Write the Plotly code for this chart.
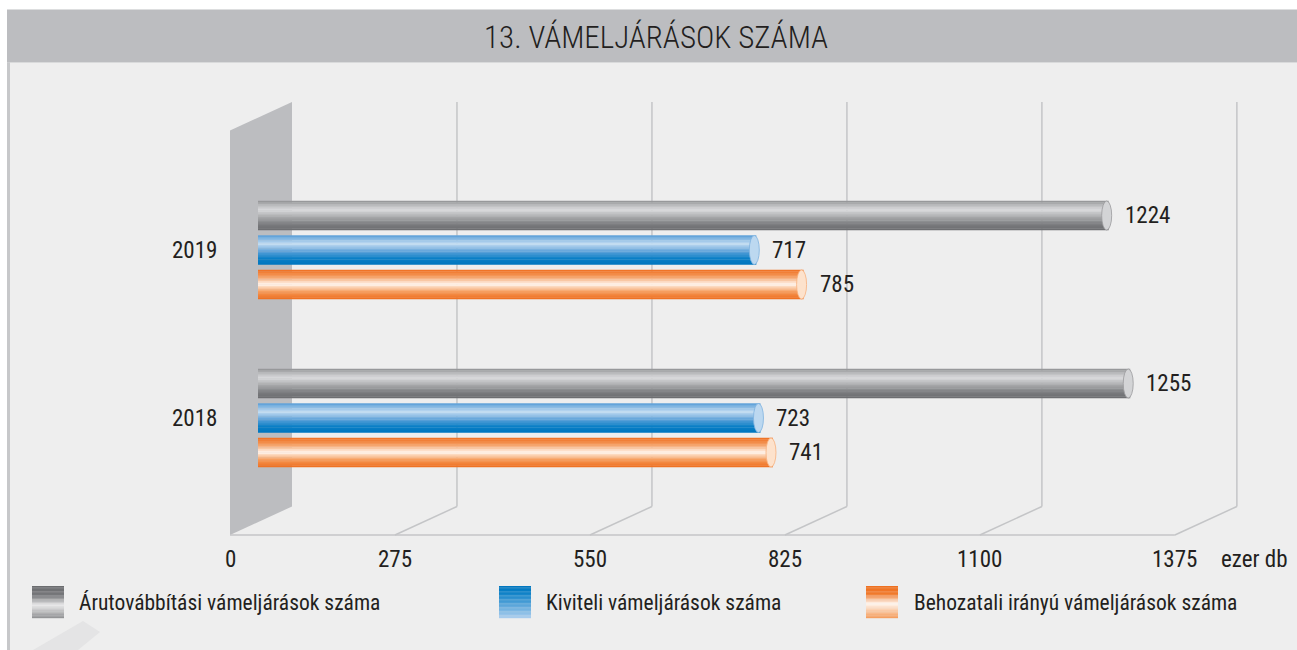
import plotly.graph_objects as go

# ---------------- data ----------------
years = ["2019", "2018"]
series_names = [
    "Árutovábbítási vámeljárások száma",
    "Kiviteli vámeljárások száma",
    "Behozatali irányú vámeljárások száma",
]
arutovabbitasi = [1224, 1255]
kiviteli = [717, 723]
behozatali = [785, 741]
tick_values = [0, 275, 550, 825, 1100, 1375]
unit_label = "ezer db"
title_text = "13. VÁMELJÁRÁSOK SZÁMA"

# ---------------- styling / geometry (pixels) ----------------
W, H = 1297, 650
FONT = "Roboto Condensed, Open Sans Condensed, DejaVu Sans Condensed, sans-serif"
TXT = "#231f20"
GRID = "#c4c5c7"
WALL = "#bcbdc0"
BG = "#eeeeee"

BAR_X0_PX, BAR_PX_PER_UNIT = 258, 0.695     # bar plane scale
GRID_X0_PX, GRID_PX_PER_UNIT = 200, 0.709   # front plane scale
CAT_Y0_PX, CAT_PITCH_PX = 250, 168
DEPTH_PX_X, DEPTH_PX_Y = 62, 28.5
WALL_FRONT_PX = 230
TOP_BACK_PX, BOTTOM_FRONT_PX = 102, 535
BAR_THICK_PX, BAR_PITCH_PX = 29, 34.5

def px_x(p):
    return p / W

def px_y(p):
    return 1 - p / H

depth_units = DEPTH_PX_X / GRID_PX_PER_UNIT
wall_t = (WALL_FRONT_PX - GRID_X0_PX) / GRID_PX_PER_UNIT
thick = BAR_THICK_PX / CAT_PITCH_PX
pitch = BAR_PITCH_PX / CAT_PITCH_PX

def lerp_color(stops, f):
    for (f0, c0), (f1, c1) in zip(stops[:-1], stops[1:]):
        if f <= f1:
            t = 0 if f1 == f0 else (f - f0) / (f1 - f0)
            a = [int(c0[i:i + 2], 16) for i in (1, 3, 5)]
            b = [int(c1[i:i + 2], 16) for i in (1, 3, 5)]
            return "#%02x%02x%02x" % tuple(round(a[j] + (b[j] - a[j]) * t) for j in range(3))
    return stops[-1][1]

bar_grads = [
    [(0, "#8e8f91"), (0.12, "#b4b5b7"), (0.32, "#d9dadc"), (0.52, "#b0b1b3"), (0.78, "#7f8083"), (1, "#6a6b6e")],
    [(0, "#5a9ed8"), (0.3, "#c4ddf2"), (0.55, "#60a3da"), (0.8, "#0a7fc6"), (1, "#0076bf")],
    [(0, "#ef6f1f"), (0.25, "#f5a066"), (0.5, "#fff7f0"), (0.74, "#f6a062"), (1, "#ee6c1c")],
]
cap_colors = ["#d3d4d6", "#bcd8f0", "#fde2cc"]
cap_lines = ["#9a9b9d", "#7fb3e0", "#f7b07c"]
legend_grads = [
    [(0, "#6a6b6e"), (0.3, "#77787b"), (0.6, "#e8e8e9"), (1, "#8e8f91")],
    [(0, "#0076bf"), (0.2, "#0a7fc6"), (1, "#aacdee")],
    [(0, "#ef6f1f"), (0.25, "#f07a2c"), (0.55, "#fff7f0"), (1, "#f49a58")],
]
legend_x_px = [32, 499, 866]
legend_text_px = [77, 544, 912]

series_values = [arutovabbitasi, kiviteli, behozatali]
cat_pos = list(range(len(years)))

fig = go.Figure()

# cylinder-like bars built from thin horizontal slices
N = 18
for s, vals in enumerate(series_values):
    off = (s - 1) * pitch
    for k in range(N):
        f = (k + 0.5) / N
        fig.add_trace(go.Bar(
            orientation="h",
            x=vals,
            y=[c + off + (f - 0.5) * thick for c in cat_pos],
            width=thick / N * 1.25,
            marker=dict(color=lerp_color(bar_grads[s], f), line=dict(width=0)),
            showlegend=False,
            hoverinfo="skip",
        ))

# invisible trace for the perspective (front plane) axis
fig.add_trace(go.Scatter(x=[tick_values[0], tick_values[-1]], y=[0, 0], xaxis="x2", yaxis="y",
                         mode="markers", marker=dict(opacity=0), showlegend=False, hoverinfo="skip"))

shapes = []
# page background and title band
shapes.append(dict(type="rect", xref="paper", yref="paper", x0=px_x(7), x1=1, y0=0, y1=px_y(62.5),
                   fillcolor=BG, line=dict(width=0), layer="below"))
shapes.append(dict(type="rect", xref="paper", yref="paper", x0=px_x(7), x1=px_x(10), y0=0, y1=px_y(62.5),
                   fillcolor="#c7c8ca", line=dict(width=0), layer="below"))
shapes.append(dict(type="rect", xref="paper", yref="paper", x0=px_x(7), x1=1, y0=px_y(62.5), y1=px_y(9.5),
                   fillcolor=WALL, line=dict(width=0), layer="below"))
# faint watermark
shapes.append(dict(type="path", xref="paper", yref="paper",
                   path="M %f,%f L %f,%f L %f,%f L %f,%f Z" % (px_x(33), px_y(650), px_x(83), px_y(621),
                                                               px_x(100), px_y(632), px_x(78), px_y(650)),
                   fillcolor="#e4e4e5", line=dict(width=0), layer="below"))

# side wall
wb = wall_t + depth_units
shapes.append(dict(type="path", xref="x2", yref="paper",
                   path="M %f,%f L %f,%f L %f,%f L %f,%f Z" % (
                       wall_t, px_y(TOP_BACK_PX + DEPTH_PX_Y), wb, px_y(TOP_BACK_PX),
                       wb, px_y(BOTTOM_FRONT_PX - DEPTH_PX_Y), wall_t, px_y(BOTTOM_FRONT_PX)),
                   fillcolor=WALL, line=dict(width=0), layer="below"))
# grid lines
for t in tick_values[1:]:
    shapes.append(dict(type="line", xref="x2", yref="paper", x0=t + depth_units, x1=t + depth_units,
                       y0=px_y(TOP_BACK_PX), y1=px_y(BOTTOM_FRONT_PX - DEPTH_PX_Y),
                       line=dict(color=GRID, width=1.5), layer="below"))
    shapes.append(dict(type="line", xref="x2", yref="paper", x0=t + depth_units, x1=t,
                       y0=px_y(BOTTOM_FRONT_PX - DEPTH_PX_Y), y1=px_y(BOTTOM_FRONT_PX),
                       line=dict(color=GRID, width=1.5), layer="below"))
shapes.append(dict(type="line", xref="x2", yref="paper", x0=wall_t, x1=tick_values[-1],
                   y0=px_y(BOTTOM_FRONT_PX), y1=px_y(BOTTOM_FRONT_PX),
                   line=dict(color=GRID, width=1.5), layer="below"))

# bar end caps
cap_half = 5 / BAR_PX_PER_UNIT
cap_shift = 2 / BAR_PX_PER_UNIT
for s, vals in enumerate(series_values):
    off = (s - 1) * pitch
    for c, v in zip(cat_pos, vals):
        shapes.append(dict(type="circle", xref="x", yref="y",
                           x0=v - cap_shift - cap_half, x1=v - cap_shift + cap_half,
                           y0=c + off - thick / 2, y1=c + off + thick / 2,
                           fillcolor=cap_colors[s], line=dict(color=cap_lines[s], width=0.8), layer="above"))

# legend swatches
LN = 24
for s in range(3):
    for k in range(LN):
        f = (k + 0.5) / LN
        shapes.append(dict(type="rect", xref="paper", yref="paper",
                           x0=px_x(legend_x_px[s]), x1=px_x(legend_x_px[s] + 32),
                           y0=px_y(586 + 32 * (k + 1.15) / LN), y1=px_y(586 + 32 * k / LN),
                           fillcolor=lerp_color(legend_grads[s], f), line=dict(width=0), layer="below"))

annotations = []
annotations.append(dict(text=title_text, xref="paper", yref="paper", x=px_x(656), y=px_y(37), showarrow=False,
                        xanchor="center", yanchor="middle",
                        font=dict(family=FONT, size=31, color=TXT, weight=300)))
# value labels
for s, vals in enumerate(series_values):
    off = (s - 1) * pitch
    for c, v in zip(cat_pos, vals):
        annotations.append(dict(text=str(v), xref="x", yref="y", x=v, y=c + off, xshift=14,
                                xanchor="left", yanchor="middle", showarrow=False,
                                font=dict(family=FONT, size=23, color=TXT)))
# category labels
for c, yr in zip(cat_pos, years):
    annotations.append(dict(text=yr, xref="paper", yref="y", x=px_x(219), y=c, xanchor="right",
                            yanchor="middle", showarrow=False, font=dict(family=FONT, size=23, color=TXT)))
# axis tick labels
for t in tick_values:
    annotations.append(dict(text=str(t), xref="x2", yref="paper", x=max(t, wall_t), y=px_y(559),
                            xanchor="center", yanchor="middle", showarrow=False,
                            font=dict(family=FONT, size=23, color=TXT)))
annotations.append(dict(text=unit_label, xref="paper", yref="paper", x=px_x(1290), y=px_y(559),
                        xanchor="right", yanchor="middle", showarrow=False,
                        font=dict(family=FONT, size=23, color=TXT)))
# legend texts
for s in range(3):
    annotations.append(dict(text=series_names[s], xref="paper", yref="paper", x=px_x(legend_text_px[s]),
                            y=px_y(602), xanchor="left", yanchor="middle", showarrow=False,
                            font=dict(family=FONT, size=21.5, color=TXT)))

fig.update_layout(
    width=W, height=H,
    margin=dict(l=0, r=0, t=0, b=0),
    paper_bgcolor="white", plot_bgcolor="rgba(0,0,0,0)",
    barmode="overlay",
    showlegend=False,
    xaxis=dict(range=[-BAR_X0_PX / BAR_PX_PER_UNIT, (W - BAR_X0_PX) / BAR_PX_PER_UNIT],
               visible=False, fixedrange=True),
    xaxis2=dict(range=[-GRID_X0_PX / GRID_PX_PER_UNIT, (W - GRID_X0_PX) / GRID_PX_PER_UNIT],
                overlaying="x", visible=False, fixedrange=True),
    yaxis=dict(range=[(H - CAT_Y0_PX) / CAT_PITCH_PX, -CAT_Y0_PX / CAT_PITCH_PX],
               visible=False, fixedrange=True),
    shapes=shapes,
    annotations=annotations,
)

fig.write_html("out.html", config={"displayModeBar": False},
               post_script="document.body.style.margin='0';document.body.style.overflow='hidden';")
